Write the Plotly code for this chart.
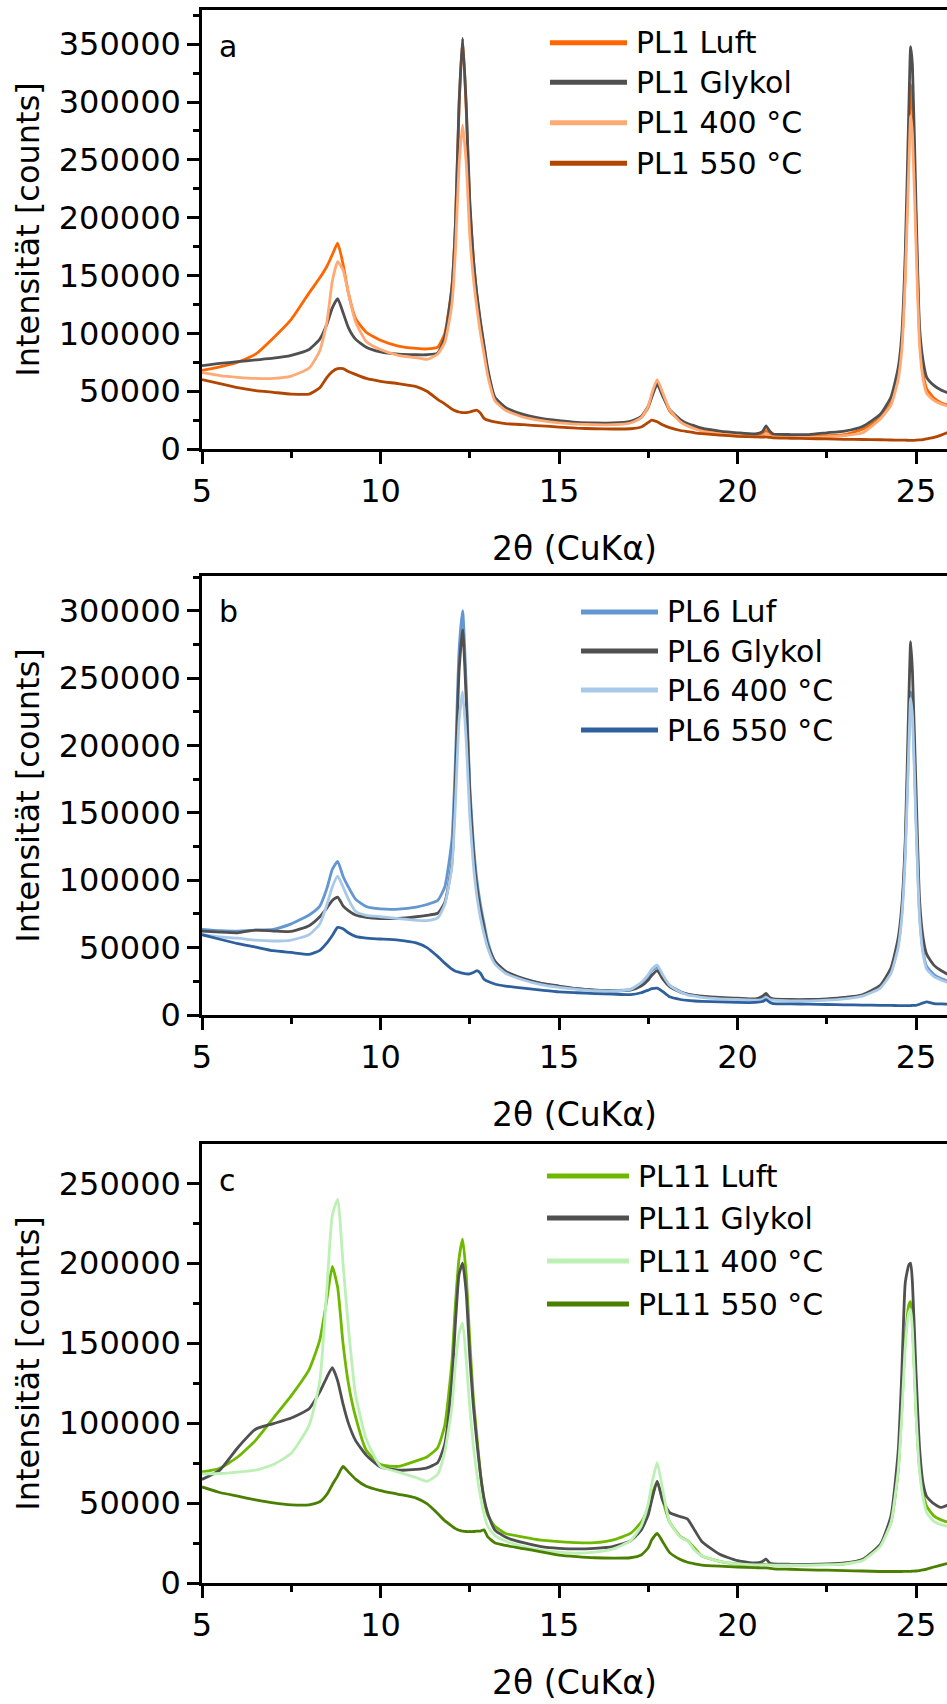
import plotly.graph_objects as go

# ---------------- data ----------------
two_theta = [5.0, 5.5, 6.0, 6.5, 7.0, 7.5, 8.0, 8.3, 8.5, 8.65,
             8.8, 8.95, 9.1, 9.3, 9.6, 10.0, 10.5, 11.0, 11.3, 11.6,
             11.8, 12.0, 12.1, 12.2, 12.3, 12.4, 12.5, 12.6, 12.7, 12.8,
             12.9, 13.0, 13.2, 13.5, 14.0, 14.5, 15.0, 15.5, 16.0, 16.5,
             17.0, 17.3, 17.5, 17.6, 17.75, 17.9, 18.1, 18.4, 18.6, 18.8,
             19.0, 19.5, 20.0, 20.5, 20.7, 20.8, 20.9, 21.0, 21.5, 22.0,
             22.5, 23.0, 23.5, 24.0, 24.3, 24.5, 24.6, 24.7, 24.8, 24.85,
             24.9, 25.0, 25.1, 25.2, 25.3, 25.5, 25.7, 25.9]

# panel a (PL1)
pl1_luft = [68000, 71000, 75000, 82000, 96000, 112000, 135000, 148000, 158000, 168000,
            178000, 160000, 135000, 113000, 101000, 94000, 89000, 87000, 86500, 88000,
            100000, 140000, 195000, 295000, 355000, 295000, 210000, 165000, 132000, 108000,
            88000, 68000, 44000, 35000, 29000, 25500, 23500, 22500, 21500, 21500,
            23000, 27000, 36000, 46000, 59000, 47000, 33000, 24000, 20500, 18500,
            16500, 14000, 12500, 11500, 12500, 16000, 13000, 11500, 11000, 11000,
            11500, 12500, 17000, 27000, 40000, 64000, 90000, 155000, 265000, 315000,
            298000, 195000, 98000, 65000, 52000, 44000, 40000, 38000]
pl1_glykol = [72000, 74000, 75500, 77000, 78500, 81000, 86000, 95000, 108000, 122000,
              130000, 118000, 105000, 95000, 88000, 84000, 82000, 81500, 81500, 83000,
              97000, 140000, 195000, 298000, 355000, 298000, 215000, 165000, 134000, 110000,
              90000, 70000, 45000, 36000, 30000, 26500, 24500, 23000, 22500, 22500,
              24000, 28000, 37000, 45000, 56000, 46000, 34000, 25500, 22000, 20000,
              18000, 15500, 14000, 13000, 15000, 20000, 15500, 13000, 12500, 12500,
              14000, 15500, 19500, 30000, 45000, 70000, 98000, 170000, 295000, 348000,
              332000, 210000, 105000, 76000, 62000, 55000, 51000, 48500]
pl1_400 = [66000, 63500, 62000, 61000, 61000, 63000, 70000, 85000, 110000, 145000,
           162000, 155000, 135000, 110000, 93000, 86000, 81000, 79000, 77500, 82000,
           92000, 125000, 172000, 245000, 280000, 248000, 185000, 148000, 122000, 100000,
           82000, 64000, 42000, 33500, 27500, 24500, 22500, 21500, 21000, 21000,
           22500, 27000, 37000, 48000, 60000, 49000, 34000, 23500, 20000, 17500,
           15500, 13000, 11500, 10500, 11000, 13500, 11500, 10500, 10000, 10000,
           10500, 11500, 14000, 26000, 38000, 60000, 85000, 148000, 245000, 288000,
           272000, 178000, 90000, 60000, 48000, 42000, 39000, 37000]
pl1_550 = [60000, 56500, 53000, 50500, 49000, 47500, 47500, 53000, 62000, 67000,
           69500, 69500, 67000, 64500, 61000, 58500, 56500, 54000, 50000, 43000,
           39000, 34500, 33000, 32000, 31500, 31500, 32000, 33000, 33500, 31000,
           26500, 25000, 23500, 22000, 21000, 20000, 19000, 18000, 17500, 17300,
           17500, 19000, 23000, 25000, 23500, 21000, 18500, 16000, 15000, 14000,
           13300, 12000, 11000, 10500, 10300, 10500, 10000, 9600, 9300, 9000,
           8700, 8400, 8200, 8000, 7800, 7700, 7700, 7600, 7500, 7500,
           7500, 7600, 7800, 8200, 8800, 10000, 12000, 14500]

# panel b (PL6)
pl6_luf = [63600, 62500, 62300, 63000, 63600, 67600, 74200, 80800, 94000, 108000,
           114000, 103000, 95000, 86000, 80500, 78700, 78500, 80000, 82000, 85000,
           95000, 130000, 190000, 270000, 300000, 245000, 170000, 128000, 100000, 82000,
           68000, 55000, 40000, 32000, 27000, 23500, 21000, 19500, 18500, 18000,
           19000, 23000, 29000, 33000, 35500, 29000, 22000, 17500, 15500, 14500,
           13500, 12500, 12000, 11500, 12500, 14500, 12500, 11500, 11000, 11000,
           11500, 12500, 14500, 21000, 32000, 52000, 75000, 125000, 205000, 240000,
           228000, 148000, 75000, 47000, 36000, 30000, 27000, 25000]
pl6_glykol = [62300, 61500, 61000, 63000, 62300, 62000, 66300, 72900, 79500, 85000,
              87500, 81000, 77500, 74200, 72500, 71600, 71600, 72900, 74000, 75500,
              83500, 112600, 175000, 255000, 286000, 235000, 165000, 122000, 95000, 78000,
              65000, 52000, 40000, 32500, 27000, 23500, 21500, 19500, 18500, 18000,
              18500, 21500, 26000, 29500, 33000, 27000, 21000, 17000, 15500, 14500,
              14000, 13000, 12500, 12000, 14000, 16000, 13000, 12000, 11500, 11500,
              12000, 13000, 15000, 22000, 35000, 57000, 80000, 130000, 235000, 277000,
              255000, 168000, 85000, 57000, 45000, 37000, 33000, 30000]
pl6_400 = [59600, 58000, 57000, 55500, 54900, 55600, 59600, 67600, 82000, 95000,
           103000, 95000, 86000, 77000, 74000, 72900, 71500, 70200, 70000, 72000,
           82000, 110000, 158000, 218000, 240000, 204000, 148000, 112000, 88000, 72000,
           60000, 50000, 38000, 31000, 26000, 22500, 20500, 19000, 18000, 17800,
           19000, 24000, 30000, 34000, 37000, 30000, 22000, 17000, 15000, 14000,
           13000, 12000, 11500, 11000, 11500, 13000, 11500, 11000, 10500, 10500,
           11000, 12000, 14000, 20000, 31000, 50000, 72000, 118000, 200000, 235000,
           222000, 142000, 72000, 45000, 34000, 28500, 26000, 24000]
pl6_550 = [59600, 56200, 53000, 50400, 47700, 46400, 45000, 48000, 53500, 59000,
           65000, 64000, 61000, 58300, 57000, 56400, 55600, 53500, 50000, 43500,
           38500, 34000, 32500, 31800, 31000, 30500, 30500, 31500, 33000, 31000,
           26500, 25000, 23000, 21500, 19900, 18500, 17200, 16500, 15900, 15500,
           15100, 16500, 18500, 19500, 19900, 17500, 13500, 11500, 10800, 10400,
           10100, 9700, 9300, 9300, 10000, 11400, 9500, 8500, 8300, 8000,
           7800, 7500, 7400, 7200, 7100, 7000, 7000, 7000, 7000, 7000,
           7100, 7200, 8000, 9000, 9800, 8500, 8200, 8000]

# panel c (PL11)
pl11_luft = [69400, 71800, 78800, 89200, 103200, 117200, 133500, 152100, 177800, 198000,
             184800, 150000, 125000, 104000, 83000, 74100, 72900, 76400, 78800, 84600,
             98600, 138200, 175000, 203000, 215100, 193000, 152000, 116000, 91600, 68300,
             52000, 42600, 35600, 31000, 28700, 26800, 25900, 25200, 25200, 26800,
             31000, 38000, 47300, 55000, 63600, 52000, 38000, 29000, 26500, 21700,
             17000, 13500, 11900, 11500, 11600, 11700, 11500, 11400, 11400, 11400,
             11600, 12000, 14700, 24000, 38000, 70000, 108000, 153000, 174000, 176000,
             163000, 108000, 72000, 56000, 48000, 42000, 39500, 38000]
pl11_glykol = [64800, 70600, 84600, 96200, 99700, 103200, 109000, 119500, 128800, 134700,
               126500, 112000, 100000, 89200, 80000, 72500, 70600, 71000, 72000, 75300,
               86900, 126500, 163000, 193000, 200000, 182000, 142000, 111000, 88000, 68000,
               53000, 44000, 33300, 28700, 25200, 22800, 21700, 21300, 21700, 22800,
               26300, 33000, 42600, 52000, 63600, 52000, 44000, 41500, 40000, 33000,
               26000, 18000, 14000, 12500, 13500, 15000, 12500, 11900, 11700, 11700,
               11900, 12500, 14700, 24000, 42000, 82000, 130000, 188000, 199000, 200000,
               188000, 132000, 84000, 62000, 54000, 49600, 47300, 49000]
pl11_400 = [68300, 68500, 69400, 70600, 74100, 81100, 98600, 126500, 184800, 230000,
            240000, 200000, 160000, 118000, 90000, 72900, 69400, 65900, 63600, 68000,
            82000, 110000, 137000, 156000, 162600, 140000, 110000, 86000, 68000, 54000,
            43000, 35600, 29800, 26300, 22800, 20500, 19300, 18600, 19300, 21200,
            26300, 35600, 49600, 62000, 75300, 59000, 38000, 28700, 26300, 20500,
            17000, 13500, 11900, 11300, 11300, 11500, 11300, 11200, 11200, 11200,
            11400, 12000, 14000, 23000, 38000, 70000, 104000, 148000, 169000, 171000,
            158000, 106000, 70000, 53000, 44000, 38500, 36500, 35500]
pl11_550 = [60100, 56600, 54300, 52000, 50100, 48900, 48900, 50800, 55500, 61500,
            67000, 72900, 69500, 65000, 60500, 57800, 55500, 53100, 49600, 43500,
            39000, 35600, 34000, 33000, 32500, 32200, 32200, 32200, 32500, 32500,
            33300, 29000, 25200, 23500, 21500, 19500, 17500, 16500, 15800, 15600,
            15800, 17500, 22000, 27000, 31000, 26000, 19000, 14700, 13000, 12000,
            11200, 10500, 10000, 9600, 9400, 9500, 9200, 8900, 8600, 8200,
            8000, 7700, 7500, 7200, 7200, 7200, 7200, 7300, 7300, 7300,
            7400, 7500, 7800, 8200, 8700, 10000, 11200, 12300]

names_a = ["PL1 Luft", "PL1 Glykol", "PL1 400 °C", "PL1 550 °C"]
names_b = ["PL6 Luf", "PL6 Glykol", "PL6 400 °C", "PL6 550 °C"]
names_c = ["PL11 Luft", "PL11 Glykol", "PL11 400 °C", "PL11 550 °C"]
panel_letters = ["a", "b", "c"]
x_title = "2θ (CuKα)"
y_title = "Intensität [counts]"

for s in [pl1_luft, pl1_glykol, pl1_400, pl1_550, pl6_luf, pl6_glykol, pl6_400, pl6_550,
          pl11_luft, pl11_glykol, pl11_400, pl11_550]:
    assert len(s) == len(two_theta), len(s)

# ---------------- layout ----------------
W, H = 947, 1704
FONT = "DejaVu Sans"

panels = [
    dict(series=[pl1_luft, pl1_glykol, pl1_400, pl1_550], names=names_a,
         colors=["#FF6600", "#505050", "#FFAA74", "#B24500"],
         top=10, bottom=449, ymax=379600,
         leg_x0=550, leg_x1=627, text_x=634, leg_y=[42.7, 82.3, 122.7, 163.3]),
    dict(series=[pl6_luf, pl6_glykol, pl6_400, pl6_550], names=names_b,
         colors=["#6497D2", "#505050", "#A9C9E9", "#2E609E"],
         top=576, bottom=1015, ymax=325750,
         leg_x0=581, leg_x1=658, text_x=665, leg_y=[612, 651, 690, 730]),
    dict(series=[pl11_luft, pl11_glykol, pl11_400, pl11_550], names=names_c,
         colors=["#6EB900", "#505050", "#BDF0B5", "#4A7F00"],
         top=1144, bottom=1583, ymax=274580,
         leg_x0=547, leg_x1=629, text_x=636, leg_y=[1176, 1218, 1261, 1304]),
]

x_left = 202
x_max = 5 + (W - x_left) / 35.7

fig = go.Figure()
shapes = []
annotations = []
layout = dict(
    width=W, height=H,
    margin=dict(l=0, r=0, t=0, b=0),
    paper_bgcolor="white", plot_bgcolor="white",
    showlegend=False,
    font=dict(family=FONT, color="black", size=32),
    template="none",
)

for i, p in enumerate(panels):
    n = "" if i == 0 else str(i + 1)
    xa, ya = "x" + n, "y" + n
    for ys, nm, col in zip(p["series"], p["names"], p["colors"]):
        fig.add_trace(go.Scatter(
            x=two_theta, y=ys, name=nm, mode="lines", xaxis=xa, yaxis=ya,
            line=dict(color=col, width=2.8, shape="spline", smoothing=0.5),
        ))
    layout["xaxis" + n] = dict(
        domain=[x_left / W, 1.0], anchor=ya, range=[5, x_max],
        tickmode="linear", tick0=5, dtick=5,
        ticks="outside", ticklen=12, tickwidth=2.5, tickcolor="black",
        minor=dict(dtick=2.5, tick0=5, ticks="outside", ticklen=6, tickwidth=2.5, tickcolor="black"),
        showline=True, linecolor="black", linewidth=2.5, mirror=True,
        showgrid=False, zeroline=False,
        tickfont=dict(family=FONT, size=32, color="black"),
        title=dict(text=x_title, font=dict(family=FONT, size=33, color="black"), standoff=28),
        automargin=False,
    )
    layout["yaxis" + n] = dict(
        domain=[1 - p["bottom"] / H, 1 - p["top"] / H], anchor=xa,
        range=[0, p["ymax"]],
        tickmode="linear", tick0=0, dtick=50000, tickformat="d",
        ticks="outside", ticklen=12, tickwidth=2.5, tickcolor="black",
        minor=dict(dtick=25000, tick0=0, ticks="outside", ticklen=6, tickwidth=2.5, tickcolor="black"),
        showline=True, linecolor="black", linewidth=2.5, mirror=True,
        showgrid=False, zeroline=False,
        tickfont=dict(family=FONT, size=32, color="black"),
        title=dict(text=y_title, font=dict(family=FONT, size=32, color="black"), standoff=10),
        automargin=False,
    )
    # panel letter
    annotations.append(dict(
        text=panel_letters[i], xref="paper", yref="paper",
        x=(x_left + 15) / W, y=1 - (p["top"] + 36) / H,
        xanchor="left", yanchor="middle", showarrow=False,
        font=dict(family=FONT, size=30, color="black"),
    ))
    # legend
    for nm, col, ly in zip(p["names"], p["colors"], p["leg_y"]):
        shapes.append(dict(
            type="line", xref="paper", yref="paper",
            x0=p["leg_x0"] / W, x1=p["leg_x1"] / W, y0=1 - ly / H, y1=1 - ly / H,
            line=dict(color=col, width=5),
        ))
        annotations.append(dict(
            text=nm, xref="paper", yref="paper",
            x=p["text_x"] / W, y=1 - ly / H,
            xanchor="left", yanchor="middle", showarrow=False,
            font=dict(family=FONT, size=30, color="black"),
        ))

layout["shapes"] = shapes
layout["annotations"] = annotations
fig.update_layout(**layout)
fig.write_html("out.html")
